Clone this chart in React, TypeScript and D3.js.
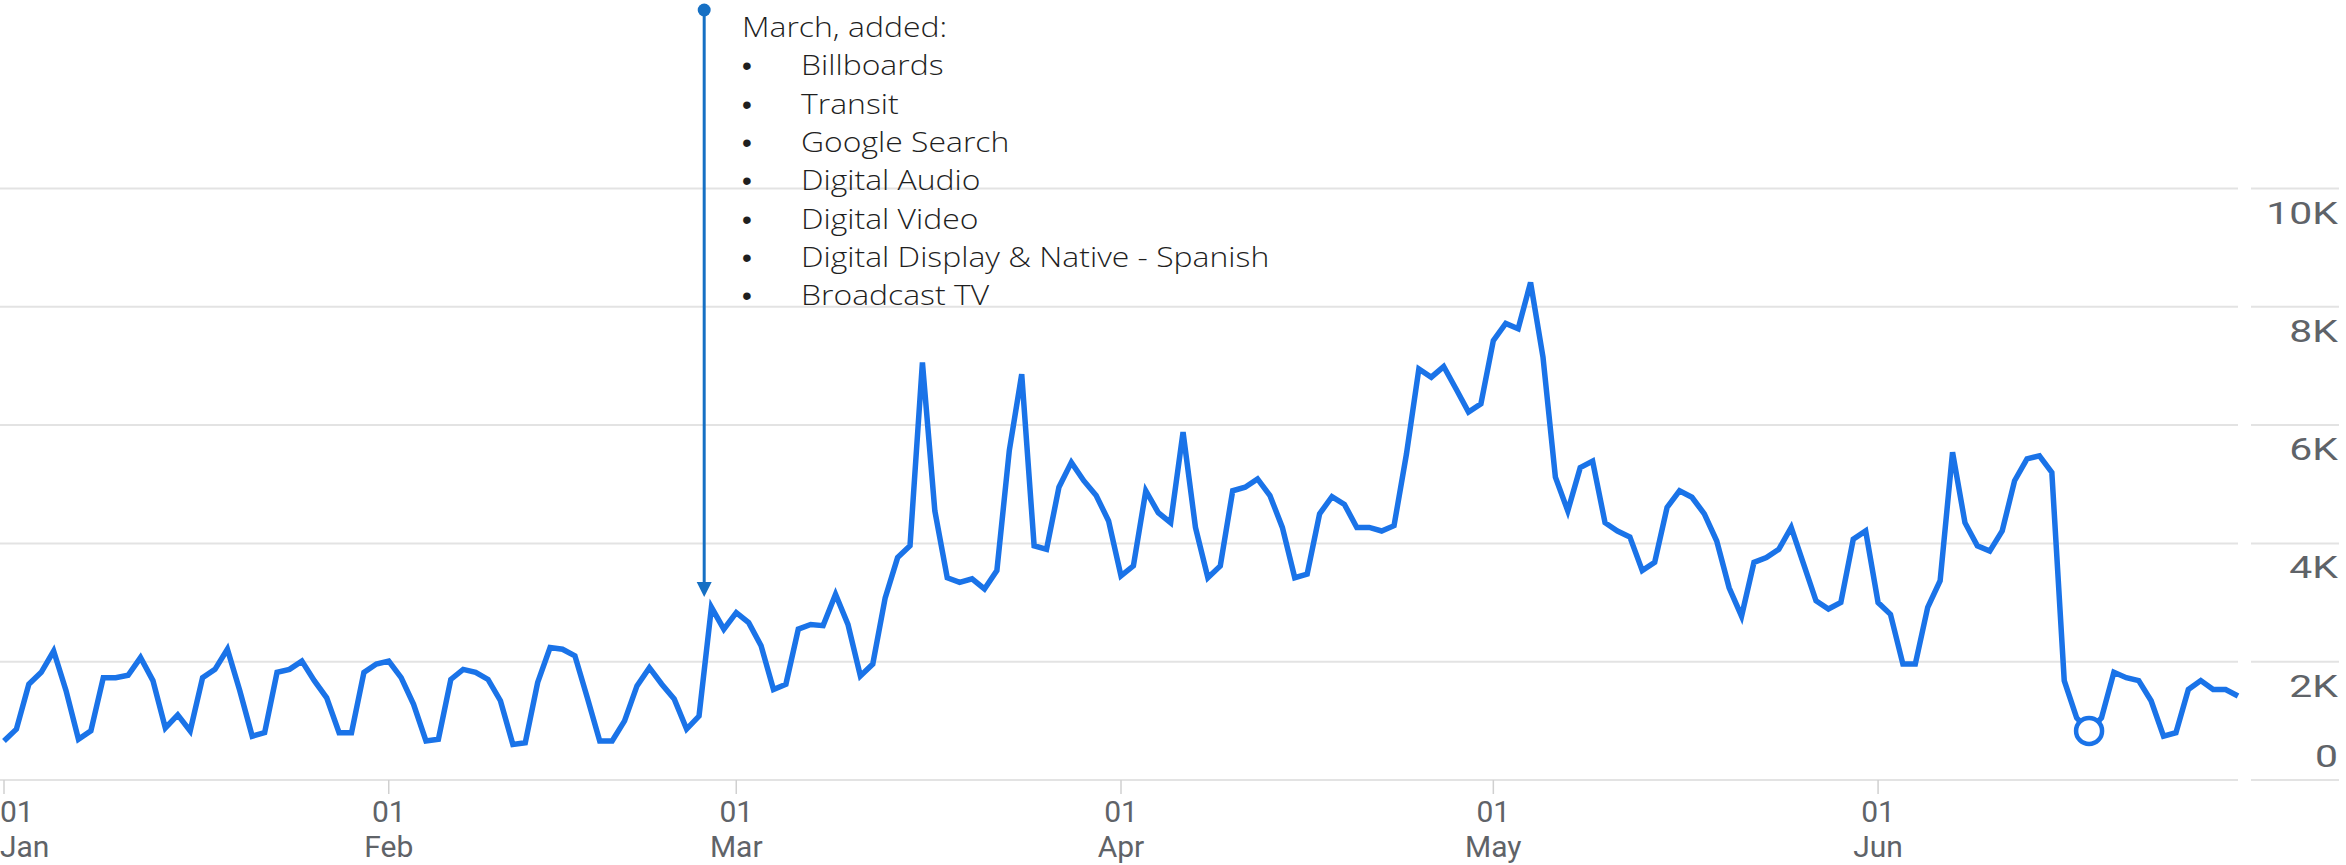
import React from "react";
import * as d3 from "d3";

const W = 2346;
const H = 865;

// Daily values, 2023 (Jan 1 – Jun 30)
const janValues = [660, 860, 1620, 1820, 2180, 1510, 690, 830, 1730, 1730, 1770, 2070, 1680, 880, 1100, 830, 1730, 1870, 2210, 1510, 740, 800, 1820, 1870, 2010, 1680, 1390, 800, 800, 1820, 1960];
const febValues = [2010, 1730, 1280, 660, 690, 1700, 1870, 1820, 1700, 1340, 600, 630, 1650, 2240, 2210, 2100, 1390, 660, 660, 1000, 1590, 1900, 1620, 1370, 860, 1080, 2920, 2550];
const marValues = [2830, 2660, 2270, 1530, 1620, 2550, 2630, 2610, 3140, 2630, 1760, 1960, 3080, 3760, 3960, 7060, 4550, 3420, 3340, 3400, 3230, 3540, 5570, 6860, 3960, 3900, 4950, 5370, 5060, 4810, 4380];
const aprValues = [3450, 3620, 4890, 4520, 4350, 5880, 4270, 3420, 3620, 4890, 4950, 5090, 4810, 4270, 3420, 3480, 4500, 4790, 4660, 4270, 4270, 4210, 4300, 5510, 6950, 6810, 6990, 6610, 6220, 6360];
const mayValues = [7430, 7720, 7630, 8410, 7150, 5120, 4550, 5280, 5390, 4350, 4210, 4110, 3540, 3680, 4610, 4890, 4780, 4500, 4040, 3250, 2770, 3680, 3760, 3900, 4270, 3650, 3030, 2890, 3000, 4070, 4210];
const junValues = [3000, 2800, 1960, 1960, 2920, 3370, 5540, 4350, 3960, 3870, 4210, 5060, 5430, 5480, 5200, 1680, 1050, 830, 1050, 1820, 1730, 1680, 1340, 740, 800, 1530, 1680, 1530, 1530, 1420];

const yTicks = [0, 2000, 4000, 6000, 8000, 10000];
const yTickLabels = ["0", "2K", "4K", "6K", "8K", "10K"];
const monthLabels = ["Jan", "Feb", "Mar", "Apr", "May", "Jun"];

const annotationTitle = "March, added:";
const annotationItems = [
  "Billboards",
  "Transit",
  "Google Search",
  "Digital Audio",
  "Digital Video",
  "Digital Display & Native - Spanish",
  "Broadcast TV",
];
const annotationDate = new Date(2023, 1, 26, 10);
const highlightDate = new Date(2023, 5, 18);

const allValues = [...janValues, ...febValues, ...marValues, ...aprValues, ...mayValues, ...junValues];
const start = new Date(2023, 0, 1);
const data = allValues.map((v, i) => ({ date: d3.timeDay.offset(start, i), value: v }));

export default function App() {
  const x = d3
    .scaleTime()
    .domain([start, new Date(2023, 5, 30)])
    .range([4, 2238]);
  const y = d3.scaleLinear().domain([0, 10000]).range([780, 188.5]);

  const line = d3
    .line<{ date: Date; value: number }>()
    .x((d) => x(d.date))
    .y((d) => y(d.value));

  const months = d3.timeMonth.range(start, new Date(2023, 5, 2));
  const hl = data.find((d) => +d.date === +highlightDate)!;
  const ax = x(annotationDate);
  const axisColor = "#5f6368";
  const annColor = "#1670c4";
  const lineStep = 38.3;

  return (
    <svg
      width={W}
      height={H}
      style={{ position: "absolute", left: 0, top: 0, background: "#fff" }}
    >
      {/* gridlines */}
      {yTicks.map((t) => (
        <g key={t}>
          <line x1={0} x2={2238} y1={y(t)} y2={y(t)} stroke="#e3e3e3" strokeWidth={2} />
          <line x1={2251} x2={2339} y1={y(t)} y2={y(t)} stroke="#e3e3e3" strokeWidth={2} />
        </g>
      ))}
      {/* y labels */}
      {yTicks.map((t, i) => (
        <text
          key={"yl" + t}
          transform={`translate(2338,${t === 0 ? 767 : y(t) + 35}) scale(1.32,1)`}
          textAnchor="end"
          fontFamily="Roboto"
          fontSize={31}
          fill={axisColor}
        >
          {yTickLabels[i]}
        </text>
      ))}
      {/* x ticks */}
      {months.map((m, i) => {
        const xm = x(m);
        const first = i === 0;
        const tx = first ? 0 : xm;
        const anchor = first ? "start" : "middle";
        return (
          <g key={"m" + i}>
            <line x1={xm} x2={xm} y1={780} y2={794} stroke="#d0d0d0" strokeWidth={1.5} />
            <text x={tx} y={822} textAnchor={anchor} fontFamily="Roboto" fontSize={30} fill={axisColor}>
              {d3.timeFormat("%d")(m)}
            </text>
            <text x={tx} y={857} textAnchor={anchor} fontFamily="Roboto" fontSize={30} fill={axisColor}>
              {monthLabels[i]}
            </text>
          </g>
        );
      })}
      {/* series line */}
      <path d={line(data)!} fill="none" stroke="#1a73e8" strokeWidth={5.5} />
      {/* highlight point */}
      <circle cx={x(hl.date)} cy={y(hl.value)} r={13} fill="#fff" stroke="#1a73e8" strokeWidth={4.5} />
      {/* annotation */}
      <line x1={ax} x2={ax} y1={10} y2={584} stroke={annColor} strokeWidth={3} />
      <circle cx={ax} cy={10} r={6.5} fill={annColor} />
      <path d={`M${ax - 7.5},${582} L${ax + 7.5},${582} L${ax},${597} Z`} fill={annColor} />
      <g fontFamily="'Open Sans'" fontWeight={300} fontSize={28} fill="#1f1f1f">
        <text transform={`translate(742,37) scale(1.14,1)`}>{annotationTitle}</text>
        {annotationItems.map((t, i) => (
          <g key={t}>
            <text
              x={742}
              y={37 + lineStep * (i + 1)}
              fontFamily="'Liberation Sans'"
              fontWeight={400}
              fontSize={28}
            >
              •
            </text>
            <text transform={`translate(801,${37 + lineStep * (i + 1)}) scale(1.14,1)`}>{t}</text>
          </g>
        ))}
      </g>
    </svg>
  );
}
